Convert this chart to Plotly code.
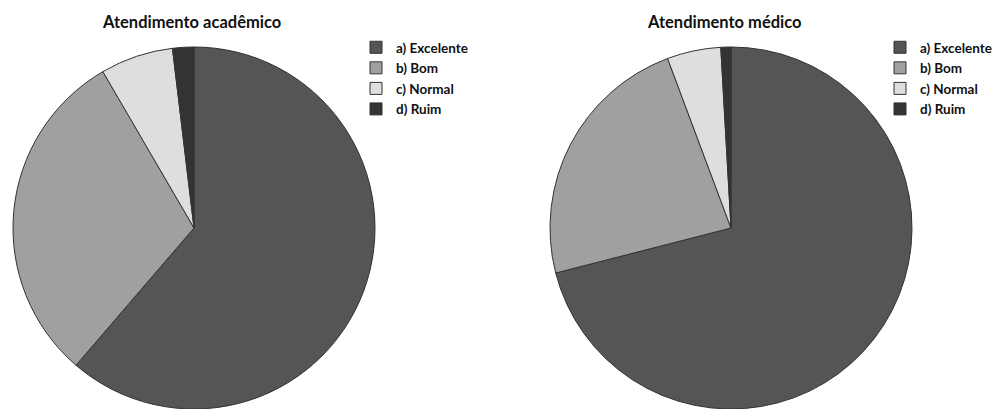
import plotly.graph_objects as go

categories = ["a) Excelente", "b) Bom", "c) Normal", "d) Ruim"]
academico = [61.3, 30.3, 6.5, 1.9]
medico = [71.0, 23.3, 4.8, 0.9]
titles = ["Atendimento acadêmico", "Atendimento médico"]
colors = ["#555555", "#a0a0a0", "#dedede", "#333333"]

W, H = 996, 409
FONT = "Lato"

# invisible suffix so the second pie gets its own legend entries
labels2 = [c + "\u200b" for c in categories]

fig = go.Figure()
fig.add_trace(go.Pie(
    labels=categories, values=academico, sort=False, direction="clockwise",
    rotation=0, textinfo="none", hoverinfo="label+value",
    marker=dict(colors=colors, line=dict(color="#333333", width=1)),
    domain=dict(x=[13 / W, 375 / W], y=[0, 362 / H]),
    legend="legend",
))
fig.add_trace(go.Pie(
    labels=labels2, values=medico, sort=False, direction="clockwise",
    rotation=0, textinfo="none", hoverinfo="label+value",
    marker=dict(colors=colors, line=dict(color="#333333", width=1)),
    domain=dict(x=[550 / W, 912 / W], y=[0, 362 / H]),
    legend="legend2",
))

legend_common = dict(
    font=dict(family=FONT, size=13.5, color="#111111", weight="bold"),
    bgcolor="rgba(0,0,0,0)", xanchor="left", yanchor="top",
    tracegroupgap=0, itemwidth=30,
)
fig.update_layout(
    width=W, height=H,
    margin=dict(l=0, r=0, t=0, b=0, autoexpand=False),
    paper_bgcolor="white", plot_bgcolor="white",
    showlegend=True,
    legend=dict(x=356 / W, y=1 - 32 / H, **legend_common),
    legend2=dict(x=880 / W, y=1 - 32 / H, **legend_common),
    annotations=[
        dict(text=titles[0], x=191 / W, y=1 - 22 / H, xref="paper", yref="paper",
             showarrow=False, xanchor="center", yanchor="middle",
             font=dict(family=FONT, size=16.5, color="#111111", weight="bold")),
        dict(text=titles[1], x=724 / W, y=1 - 22 / H, xref="paper", yref="paper",
             showarrow=False, xanchor="center", yanchor="middle",
             font=dict(family=FONT, size=16.5, color="#111111", weight="bold")),
    ],
)

fig.write_html("out.html")
